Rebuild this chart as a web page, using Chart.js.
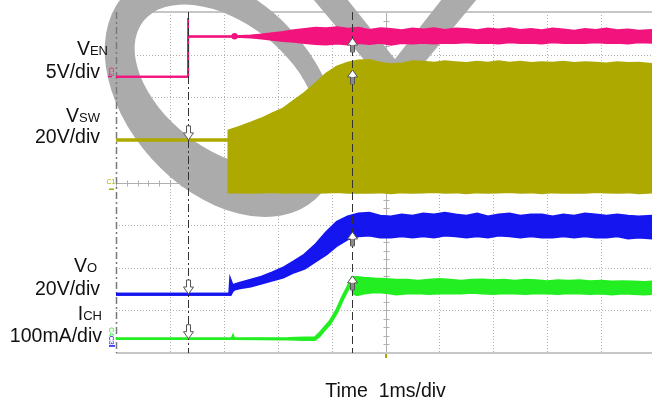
<!DOCTYPE html>
<html><head><meta charset="utf-8">
<script src="https://cdn.jsdelivr.net/npm/chart.js@4.4.1/dist/chart.umd.min.js"></script>
<style>html,body{margin:0;padding:0;background:#fff;overflow:hidden}canvas{display:block}</style>
</head><body>
<canvas id="c" width="652" height="402"></canvas>
<script>
// Time axis in ms (1 ms/div), trace levels in screen divisions (0 = bottom grid line, 8 = top).
// Noisy traces are stored as an upper and a lower envelope.
const enT  = [0,1.336,1.337,1.338,2.2,2.5,2.7,2.9,3.1,3.3,3.5,3.7,3.9,4.1,4.3,4.5,4.7,4.9,5.1,5.3,5.5,5.7,5.9,6.1,6.3,6.5,6.7,6.9,7.1,7.3,7.5,7.7,7.9,8.1,8.3,8.5,8.7,8.9,9.1,9.3,9.5,9.7,9.95];
const enHi = [6.48,6.48,7.86,7.43,7.43,7.45,7.47,7.50,7.53,7.57,7.60,7.63,7.62,7.64,7.61,7.63,7.58,7.62,7.60,7.57,7.61,7.59,7.62,7.58,7.61,7.60,7.57,7.61,7.59,7.62,7.58,7.60,7.57,7.61,7.59,7.56,7.60,7.58,7.61,7.57,7.59,7.56,7.58];
const enLo = [6.48,6.48,7.43,7.42,7.42,7.40,7.38,7.35,7.32,7.30,7.27,7.25,7.24,7.26,7.24,7.27,7.25,7.28,7.23,7.27,7.26,7.28,7.26,7.28,7.27,7.29,7.27,7.28,7.26,7.29,7.27,7.28,7.26,7.29,7.27,7.28,7.27,7.29,7.27,7.28,7.26,7.29,7.28];

const swT  = [0,2.096,2.097,2.3,2.5,2.7,2.9,3.1,3.3,3.5,3.7,3.9,4.1,4.3,4.5,4.7,4.9,5.1,5.3,5.5,5.7,5.9,6.1,6.3,6.5,6.7,6.9,7.1,7.3,7.5,7.7,7.9,8.1,8.3,8.5,8.7,8.9,9.1,9.3,9.5,9.7,9.95];
const swHi = [5.00,5.00,5.21,5.30,5.39,5.49,5.61,5.72,5.91,6.09,6.31,6.54,6.71,6.80,6.85,6.86,6.80,6.76,6.78,6.83,6.82,6.80,6.83,6.81,6.79,6.82,6.80,6.83,6.80,6.82,6.79,6.81,6.80,6.82,6.79,6.81,6.80,6.78,6.81,6.79,6.80,6.77];
const swLo = [5.00,5.00,3.78,3.78,3.77,3.78,3.79,3.77,3.78,3.78,3.77,3.78,3.79,3.77,3.78,3.77,3.78,3.76,3.78,3.77,3.78,3.79,3.77,3.78,3.76,3.78,3.77,3.78,3.79,3.77,3.78,3.76,3.78,3.77,3.78,3.77,3.79,3.78,3.77,3.78,3.76,3.78];

const voT  = [0,2.11,2.125,2.16,2.2,2.3,2.5,2.7,2.9,3.1,3.3,3.5,3.7,3.9,4.1,4.3,4.5,4.7,4.9,5.1,5.3,5.5,5.7,5.9,6.1,6.3,6.5,6.7,6.9,7.1,7.3,7.5,7.7,7.9,8.1,8.3,8.5,8.7,8.9,9.1,9.3,9.5,9.7,9.95];
const voHi = [1.38,1.38,1.69,1.57,1.60,1.64,1.71,1.78,1.88,1.99,2.14,2.30,2.53,2.82,3.07,3.19,3.26,3.28,3.21,3.19,3.24,3.21,3.26,3.24,3.28,3.24,3.21,3.26,3.19,3.24,3.26,3.21,3.24,3.24,3.19,3.24,3.21,3.26,3.24,3.21,3.24,3.21,3.19,3.21];
const voLo = [1.38,1.38,1.38,1.46,1.50,1.53,1.57,1.64,1.71,1.78,1.90,1.99,2.16,2.32,2.53,2.68,2.75,2.77,2.72,2.72,2.75,2.72,2.75,2.72,2.77,2.75,2.72,2.75,2.72,2.77,2.75,2.72,2.75,2.72,2.72,2.75,2.72,2.75,2.72,2.72,2.75,2.70,2.72,2.70];

const chT  = [0,2.15,2.17,2.19,3.2,3.5,3.69,3.78,3.84,3.97,4.10,4.21,4.34,4.38,4.40,4.47,4.6,4.8,5.0,5.2,5.4,5.6,5.8,6.0,6.2,6.4,6.6,6.8,7.0,7.2,7.4,7.6,7.8,8.0,8.2,8.4,8.6,8.8,9.0,9.2,9.4,9.6,9.8,9.95];
const chHi = [0.335,0.335,0.40,0.335,0.345,0.36,0.36,0.47,0.56,0.75,1.03,1.34,1.66,1.78,1.78,1.78,1.76,1.74,1.73,1.71,1.71,1.69,1.71,1.73,1.71,1.69,1.71,1.72,1.70,1.71,1.69,1.71,1.70,1.68,1.70,1.69,1.70,1.68,1.69,1.67,1.68,1.67,1.66,1.67];
const chLo = [0.335,0.335,0.335,0.335,0.325,0.31,0.31,0.40,0.50,0.68,0.95,1.26,1.58,1.68,1.40,1.36,1.40,1.43,1.42,1.38,1.40,1.41,1.39,1.40,1.41,1.40,1.42,1.40,1.39,1.41,1.40,1.39,1.41,1.40,1.39,1.41,1.40,1.39,1.40,1.38,1.40,1.39,1.38,1.39];

// cursors (ms) and the trace levels marked by the arrows on them
const cursorT = [1.336, 4.378];
const cursor1Marks = [5.00, 1.384, 0.335];      // VSW, VO, ICH  (down arrows)
const cursor2Marks = [7.39, 6.64, 2.84, 1.81];  // VEN, VSW, VO, ICH (up arrows)

// text
const namePrefix = ['V','V','V','I'];
const nameSub    = ['EN','SW','O','CH'];
const scaleText  = ['5V/div','20V/div','20V/div','100mA/div'];
const timeText   = 'Time  1ms/div';

const PINK='#f2137d', OLIVE='#ada900', BLUE='#1515f0', GREEN='#22ee22';

function pts(t, v){ return t.map((x,i)=>({x:x, y:v[i]})); }
function band(t, hi, lo, color, w, extra){
  return [
    Object.assign({data:pts(t,hi), borderColor:color, backgroundColor:color, borderWidth:w, fill:'+1', pointRadius:0}, extra||{}),
    {data:pts(t,lo), borderColor:color, backgroundColor:color, borderWidth:w, fill:false, pointRadius:0}
  ];
}

const FONT='"Liberation Sans", Arial, Helvetica, sans-serif';

const scope = {
  id:'scope',
  beforeDraw(chart){
    const c=chart.ctx; c.save(); c.fillStyle='#fff'; c.fillRect(0,0,chart.width,chart.height); c.restore();
  },
  beforeDatasetsDraw(chart){
    const ctx=chart.ctx, x=chart.scales.x, y=chart.scales.y, a=chart.chartArea;
    const L=(x1,y1,x2,y2)=>{ctx.beginPath();ctx.moveTo(x1,y1);ctx.lineTo(x2,y2);ctx.stroke();};
    ctx.save();
    // dotted grid
    ctx.strokeStyle='#b2b2b2'; ctx.lineWidth=1; ctx.setLineDash([1,2]);
    for(let i=1;i<=9;i++){ if(i===5) continue; const px=Math.round(x.getPixelForValue(i))+0.5; L(px,a.top,px,a.bottom); }
    for(let j=1;j<=7;j++){ if(j===4) continue; const py=Math.round(y.getPixelForValue(j))+0.5; L(a.left,py,a.right,py); }
    ctx.setLineDash([]);
    // centre axes with minor ticks
    ctx.strokeStyle='#b0b0b0';
    const cx=Math.round(x.getPixelForValue(5))+0.5, cy=Math.round(y.getPixelForValue(4))+0.5;
    L(a.left,cy,a.right,cy); L(cx,a.top,cx,a.bottom);
    for(let k=0;k<50;k++){ const px=Math.round(x.getPixelForValue(k*0.2))+0.5; L(px,cy-3,px,cy+3); }
    for(let k=0;k<=40;k++){ const py=Math.round(y.getPixelForValue(k*0.2))+0.5; L(cx-3,py,cx+3,py); }
    // top / bottom frame
    ctx.strokeStyle='#c6c6c6'; ctx.lineWidth=2;
    L(a.left,a.top,a.right,a.top); L(a.left,a.bottom,a.right,a.bottom);
    // watermark
    ctx.fillStyle='#ababab';
    ctx.beginPath();
    ctx.ellipse(222,95,140,95,48*Math.PI/180,0,Math.PI*2);
    const r2=38*Math.PI/180;
    ctx.moveTo(226+105*Math.cos(r2),86+105*Math.sin(r2));
    ctx.ellipse(226,86,105,63,r2,0,Math.PI*2);
    ctx.fill('evenodd');
    ctx.beginPath(); ctx.moveTo(313,-1); ctx.lineTo(347,-1); ctx.lineTo(402,68); ctx.lineTo(371,68); ctx.closePath(); ctx.fill();
    ctx.beginPath(); ctx.moveTo(442,-1); ctx.lineTo(477,-1); ctx.lineTo(420,68); ctx.lineTo(388,68); ctx.closePath(); ctx.fill();
    // left reference line
    ctx.strokeStyle='#7a7a7a'; ctx.lineWidth=1.5; ctx.setLineDash([7,3,2,3]);
    const lx=x.getPixelForValue(0)+0.5; L(lx,a.top,lx,a.bottom);
    ctx.restore();
  },
  afterDatasetsDraw(chart){
    const ctx=chart.ctx, x=chart.scales.x, y=chart.scales.y, a=chart.chartArea;
    const L=(x1,y1,x2,y2)=>{ctx.beginPath();ctx.moveTo(x1,y1);ctx.lineTo(x2,y2);ctx.stroke();};
    ctx.save();
    // cursors
    ctx.lineWidth=1; ctx.strokeStyle='#333';
    ctx.setLineDash([8,3,2,3]);
    const c1=Math.round(x.getPixelForValue(cursorT[0]))+0.5; L(c1,a.top,c1,a.bottom);
    ctx.setLineDash([8,4]);
    const c2=Math.round(x.getPixelForValue(cursorT[1]))+0.5; L(c2,a.top,c2,a.bottom);
    ctx.setLineDash([]);
    // arrows
    function arrow(px,py,dir,shaft){
      const hw=5, hh=7, sw=2, sl=7;
      ctx.beginPath();
      ctx.moveTo(px,py);
      ctx.lineTo(px-hw,py-dir*hh); ctx.lineTo(px-sw,py-dir*hh); ctx.lineTo(px-sw,py-dir*(hh+sl));
      ctx.lineTo(px+sw,py-dir*(hh+sl)); ctx.lineTo(px+sw,py-dir*hh); ctx.lineTo(px+hw,py-dir*hh);
      ctx.closePath();
      ctx.fillStyle='#fff'; ctx.fill();
      if(shaft){ ctx.fillStyle=shaft; ctx.fillRect(px-sw+0.5, dir>0? py-(hh+sl)+0.5 : py+hh, 2*sw-1, sl-0.5); }
      ctx.strokeStyle='#555'; ctx.lineWidth=1; ctx.stroke();
    }
    cursor1Marks.forEach(v=>arrow(c1, y.getPixelForValue(v), 1, null));
    cursor2Marks.forEach(v=>arrow(c2, y.getPixelForValue(v), -1, '#8a8a8a'));
    // channel markers
    ctx.font='7px '+FONT; ctx.textAlign='center'; ctx.textBaseline='middle';
    const mx=a.left-5;
    ctx.save(); ctx.translate(mx,y.getPixelForValue(6.48)-5); ctx.rotate(Math.PI/2); ctx.fillStyle=PINK; ctx.fillText('C2',0,0); ctx.restore();
    ctx.fillStyle=PINK; ctx.fillRect(mx-3,y.getPixelForValue(6.48)-1,4,1.5);
    ctx.fillStyle=OLIVE; ctx.fillText('C1',mx,y.getPixelForValue(4)); ctx.fillRect(mx-2,y.getPixelForValue(4)+6,5,1.5);
    ctx.save(); ctx.translate(mx,y.getPixelForValue(0.5)); ctx.rotate(Math.PI/2); ctx.fillStyle=GREEN; ctx.fillText('C4',0,0); ctx.restore();
    ctx.save(); ctx.translate(mx,y.getPixelForValue(0.3)); ctx.rotate(Math.PI/2); ctx.fillStyle=BLUE; ctx.fillText('C3',0,0); ctx.restore();
    ctx.fillStyle=BLUE; ctx.fillRect(mx-2,y.getPixelForValue(0.3)+5,6,1.5);
    // trigger position mark
    ctx.fillStyle=OLIVE; ctx.fillRect(Math.round(x.getPixelForValue(5))-1,a.bottom+1,2,4);
    // labels
    const big='19.5px '+FONT, small='13px '+FONT;
    ctx.fillStyle='#111'; ctx.textAlign='left'; ctx.textBaseline='alphabetic';
    const nameRight=[108,100,97,102], nameBase=[55,122,272,320];
    const scaleRight=[100,100,100,102], scaleBase=[78,143,295,342];
    for(let i=0;i<4;i++){
      ctx.font=big; const w1=ctx.measureText(namePrefix[i]).width;
      ctx.font=small; const w2=ctx.measureText(nameSub[i]).width;
      const x0=nameRight[i]-w1-w2;
      ctx.font=big; ctx.fillText(namePrefix[i],x0,nameBase[i]);
      ctx.font=small; ctx.fillText(nameSub[i],x0+w1,nameBase[i]);
      ctx.font=big; ctx.textAlign='right'; ctx.fillText(scaleText[i],scaleRight[i],scaleBase[i]); ctx.textAlign='left';
    }
    ctx.font=big; ctx.textAlign='center';
    ctx.fillText(timeText, x.getPixelForValue(5), 397);
    ctx.restore();
  }
};

const datasets = [].concat(
  band(enT,enHi,enLo,PINK,2,{pointRadius:(c)=>c.dataIndex===4?2.2:0}),
  band(swT,swHi,swLo,OLIVE,3),
  band(voT,voHi,voLo,BLUE,3),
  band(chT,chHi,chLo,GREEN,2.5)
);

new Chart(document.getElementById('c').getContext('2d'), {
  type:'line',
  data:{datasets:datasets},
  options:{
    responsive:false, animation:false, devicePixelRatio:1,
    parsing:true,
    layout:{padding:{left:116, top:12, right:0, bottom:49}},
    scales:{
      x:{type:'linear', min:0, max:9.944, display:false},
      y:{type:'linear', min:0, max:8, display:false}
    },
    elements:{line:{tension:0}, point:{radius:0, hoverRadius:0}},
    plugins:{legend:{display:false}, tooltip:{enabled:false}}
  },
  plugins:[scope]
});
</script>
</body></html>
